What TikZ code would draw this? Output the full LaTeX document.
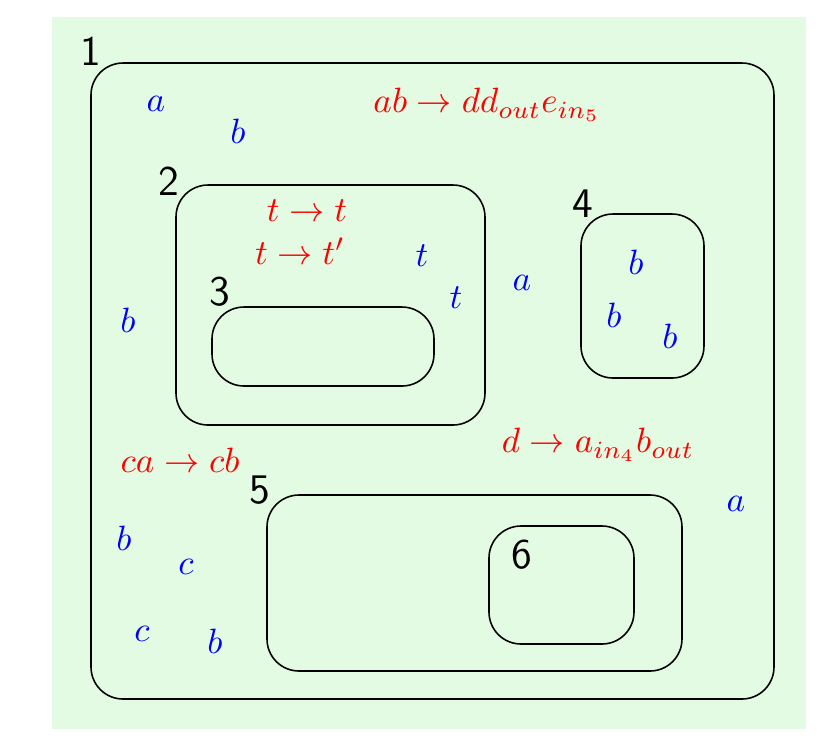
\documentclass[tikz,border=0pt]{standalone}
\usepackage{tikz}
\definecolor{cellgreen}{RGB}{227,251,227}
\tikzset{
  memb/.style={draw=black, line width=.45pt, rounded corners=.32cm},
  mlabel/.style={font=\sffamily\large, inner sep=0pt},
  obj/.style={text=blue, inner sep=0pt},
  evol/.style={text=red, inner sep=0pt}
}
\begin{document}
\begin{tikzpicture}[x=.01cm,y=-.01cm]
\useasboundingbox (0,0) rectangle (826,750);
\fill[cellgreen] (52,17) rectangle (806,729);

% membranes
\draw[memb] (91,63) rectangle (774,699);
\node[mlabel] (m1) at (91,51) {1};
\draw[memb] (176,185) rectangle (485,425);
\node[mlabel] (m2) at (169,181) {2};
\draw[memb] (212,307) rectangle (434,386);
\node[mlabel] (m3) at (220,292) {3};
\draw[memb] (581,214) rectangle (704,378);
\node[mlabel] (m4) at (583,204) {4};
\draw[memb] (267,495) rectangle (682,671);
\node[mlabel] (m5) at (260,490) {5};
\draw[memb] (489,526) rectangle (634,644);
\node[mlabel] (m6) at (522,555) {6};

% rules
\node[evol] (r1) at (487,105) {$ab \rightarrow dd_{out}e_{in_5}$};
\node[evol] (r2) at (307,211) {$t \rightarrow t$};
\node[evol] (r3) at (300,251) {$t \rightarrow t'$};
\node[evol] (r4) at (598,445) {$d \rightarrow a_{in_4}b_{out}$};
\node[evol] (r5) at (180,460) {$ca \rightarrow cb$};

% objects
\node[obj] (o1) at (156,104) {$a$};
\node[obj] (o2) at (238,131) {$b$};
\node[obj] (o3) at (128,320) {$b$};
\node[obj] (o4) at (522,283) {$a$};
\node[obj] (o5) at (422,256) {$t$};
\node[obj] (o6) at (456,298) {$t$};
\node[obj] (o7) at (636,262) {$b$};
\node[obj] (o8) at (614,315) {$b$};
\node[obj] (o9) at (670,336) {$b$};
\node[obj] (o10) at (736,504) {$a$};
\node[obj] (o11) at (124,538) {$b$};
\node[obj] (o12) at (186,567) {$c$};
\node[obj] (o13) at (142,634) {$c$};
\node[obj] (o14) at (215,641) {$b$};
\end{tikzpicture}
\end{document}
